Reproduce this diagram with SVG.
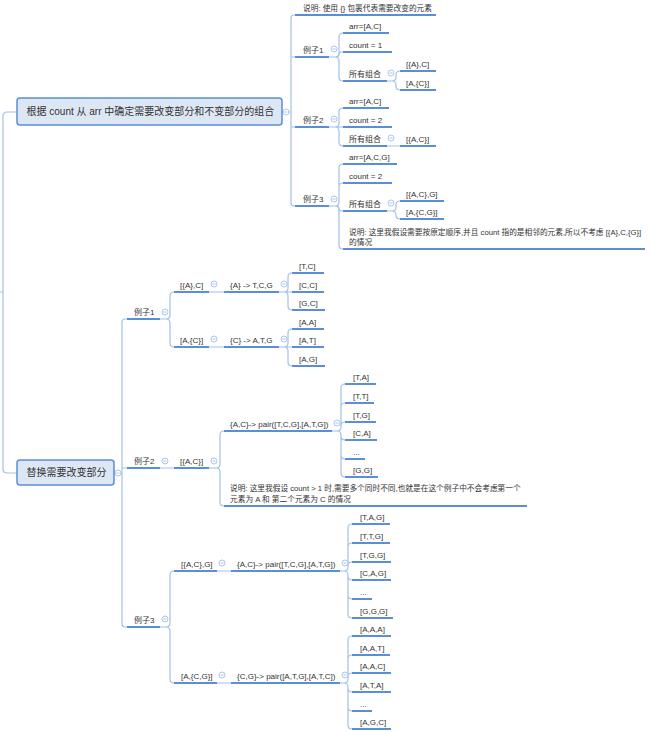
<svg xmlns="http://www.w3.org/2000/svg" width="651" height="732" viewBox="0 0 651 732">
<defs>
<style>
text{font-family:"Liberation Sans","Noto Sans CJK SC",sans-serif;font-size:8px;fill:#333}
.big{font-size:10px}
.nt{font-size:7.7px}
.box{fill:#dde7f4;stroke:#5b8ed8;stroke-width:1.5}
.ul{stroke:#5b8ed8;stroke-width:2;fill:none}
.cn{stroke:#a3c0ea;stroke-width:1.2;fill:none}
.tg{fill:#fff;stroke:#a3c0ea;stroke-width:0.9}
.tm{stroke:#a3c0ea;stroke-width:0.9}
</style>
<g id="tog"><circle class="tg" r="3"/><line class="tm" x1="-1.6" y1="0" x2="1.6" y2="0"/></g>
</defs>
<rect width="651" height="732" fill="#fff"/>
<g id="connectors">
<path class="cn" d="M17 112 H7 Q3 112 3 116 V469 Q3 473 7 473 H17 M0 292 H3"/>
<path class="cn" d="M282 112 H291 M295 15 H294 Q291 15 291 18 V203 Q291 206 294 206 H295 M291 57 H295 M291 127 H295"/>
<path class="cn" d="M329 57 H335 Q339 57 339 53 V37 Q339 33 343 33 M329 57 H336 Q339 57 339 54.5 Q339 52 342 52 H343 M329 57 H335 Q339 57 339 61 V77 Q339 81 343 81"/>
<path class="cn" d="M387 81 H392 Q396 81 396 77 V75 Q396 71 400 71 M387 81 H392 Q396 81 396 85 V86 Q396 90 400 90"/>
<path class="cn" d="M329 127 H335 Q339 127 339 123 V112 Q339 108 343 108 M329 127 H343 M329 127 H335 Q339 127 339 131 V142 Q339 146 343 146 M387 146 H400"/>
<path class="cn" d="M329 206 H335 Q339 206 339 202 V168 Q339 164 343 164 M329 206 H335 Q339 206 339 202 V187 Q339 183 343 183 M329 206 H336 Q339 206 339 208.5 Q339 211 342 211 H343 M329 206 H335 Q339 206 339 210 V245 Q339 249 343 249"/>
<path class="cn" d="M387 211 H392 Q396 211 396 207 V205 Q396 201 400 201 M387 211 H392 Q396 211 396 215 Q396 219 400 219"/>
<path class="cn" d="M114 473 H122 M127 319 H125 Q122 319 122 322 V624 Q122 627 125 627 H127 M122 468 H127"/>
<path class="cn" d="M160 319 H166 Q170 319 170 315 V296 Q170 292 174 292 M160 319 H166 Q170 319 170 323 V343 Q170 347 174 347 M209 292 H224 M209 347 H224"/>
<path class="cn" d="M279 292 H284 Q288 292 288 288 V277 Q288 273 292 273 M279 292 H292 M279 292 H284 Q288 292 288 296 V306 Q288 310 292 310"/>
<path class="cn" d="M279 347 H284 Q288 347 288 343 V333 Q288 329 292 329 M279 347 H292 M279 347 H284 Q288 347 288 351 V362 Q288 366 292 366"/>
<path class="cn" d="M160 468 H174 M209 468 H216 Q220 468 220 464 V435 Q220 431 224 431 M209 468 H216 Q220 468 220 472 V502 Q220 506 224 506"/>
<path class="cn" d="M332 431 H337 Q341 431 341 427 V388 Q341 384 345 384 M332 431 H337 Q341 431 341 427 V407 Q341 403 345 403 M332 431 H337 Q341 431 341 427 V426 Q341 422 345 422 M332 431 H337 Q341 431 341 435 V436 Q341 440 345 440 M332 431 H337 Q341 431 341 435 V455 Q341 459 345 459 M332 431 H337 Q341 431 341 435 V473 Q341 477 345 477"/>
<path class="cn" d="M160 627 H166 Q170 627 170 623 V575 Q170 571 174 571 M160 627 H166 Q170 627 170 631 V679 Q170 683 174 683 M217 571 H231 M217 683 H231"/>
<path class="cn" d="M340 571 H344 Q348 571 348 567 V528 Q348 524 352 524 M340 571 H344 Q348 571 348 567 V547 Q348 543 352 543 M340 571 H344 Q348 571 348 567 V566 Q348 562 352 562 M340 571 H344 Q348 571 348 575 V576 Q348 580 352 580 M340 571 H344 Q348 571 348 575 V595 Q348 599 352 599 M340 571 H344 Q348 571 348 575 V614 Q348 618 352 618"/>
<path class="cn" d="M340 683 H344 Q348 683 348 679 V640 Q348 636 352 636 M340 683 H344 Q348 683 348 679 V659 Q348 655 352 655 M340 683 H344 Q348 683 348 679 V677 Q348 673 352 673 M340 683 H344 Q348 683 348 687 V688 Q348 692 352 692 M340 683 H344 Q348 683 348 687 V707 Q348 711 352 711 M340 683 H344 Q348 683 348 687 V725 Q348 729 352 729"/>
<use href="#tog" x="286" y="112"/><use href="#tog" x="334" y="49"/><use href="#tog" x="391" y="73"/>
<use href="#tog" x="334" y="119"/><use href="#tog" x="391" y="138"/><use href="#tog" x="334" y="199"/>
<use href="#tog" x="391" y="203"/><use href="#tog" x="118" y="473"/><use href="#tog" x="165" y="312"/>
<use href="#tog" x="214" y="284"/><use href="#tog" x="284" y="284"/><use href="#tog" x="214" y="339"/>
<use href="#tog" x="284" y="339"/><use href="#tog" x="165" y="461"/><use href="#tog" x="214" y="461"/>
<use href="#tog" x="337" y="423"/><use href="#tog" x="165" y="619"/><use href="#tog" x="222" y="563"/>
<use href="#tog" x="345" y="563"/><use href="#tog" x="222" y="675"/><use href="#tog" x="345" y="675"/>
</g>
<g id="box1"><rect class="box" x="17" y="98" width="265" height="27" rx="3"/><text class="big" x="26.5" y="115">根据 count 从 arr 中确定需要改变部分和不变部分的组合</text></g>
<g id="box2"><rect class="box" x="17" y="460" width="97" height="25" rx="3"/><text class="big" x="26.5" y="476">替换需要改变部分</text></g>
<g id="p1-note"><line class="ul" x1="295" y1="15" x2="436" y2="15"/><text class="nt" x="303" y="10.5">说明: 使用 {} 包裹代表需要改变的元素</text></g>
<g id="p1-ex1"><line class="ul" x1="295" y1="57" x2="329" y2="57"/><text x="303" y="52.5">例子1</text></g>
<g id="p1-ex1-arr"><line class="ul" x1="343" y1="33" x2="389" y2="33"/><text x="349" y="28.5">arr=[A,C]</text></g>
<g id="p1-ex1-count"><line class="ul" x1="343" y1="52" x2="392" y2="52"/><text x="349" y="47.5">count = 1</text></g>
<g id="p1-ex1-all"><line class="ul" x1="343" y1="81" x2="387" y2="81"/><text x="349" y="76.5">所有组合</text></g>
<g id="p1-ex1-c1"><line class="ul" x1="400" y1="71" x2="436" y2="71"/><text x="406" y="66.5">[{A},C]</text></g>
<g id="p1-ex1-c2"><line class="ul" x1="400" y1="90" x2="436" y2="90"/><text x="406" y="85.5">[A,{C}]</text></g>
<g id="p1-ex2"><line class="ul" x1="295" y1="127" x2="329" y2="127"/><text x="303" y="122.5">例子2</text></g>
<g id="p1-ex2-arr"><line class="ul" x1="343" y1="108" x2="389" y2="108"/><text x="349" y="103.5">arr=[A,C]</text></g>
<g id="p1-ex2-count"><line class="ul" x1="343" y1="127" x2="392" y2="127"/><text x="349" y="122.5">count = 2</text></g>
<g id="p1-ex2-all"><line class="ul" x1="343" y1="146" x2="387" y2="146"/><text x="349" y="141.5">所有组合</text></g>
<g id="p1-ex2-c1"><line class="ul" x1="400" y1="146" x2="436" y2="146"/><text x="406" y="141.5">[{A,C}]</text></g>
<g id="p1-ex3"><line class="ul" x1="295" y1="206" x2="329" y2="206"/><text x="303" y="201.5">例子3</text></g>
<g id="p1-ex3-arr"><line class="ul" x1="343" y1="164" x2="397" y2="164"/><text x="349" y="159.5">arr=[A,C,G]</text></g>
<g id="p1-ex3-count"><line class="ul" x1="343" y1="183" x2="392" y2="183"/><text x="349" y="178.5">count = 2</text></g>
<g id="p1-ex3-all"><line class="ul" x1="343" y1="211" x2="387" y2="211"/><text x="349" y="206.5">所有组合</text></g>
<g id="p1-ex3-c1"><line class="ul" x1="400" y1="201" x2="444" y2="201"/><text x="406" y="196.5">[{A,C},G]</text></g>
<g id="p1-ex3-c2"><line class="ul" x1="400" y1="219" x2="444" y2="219"/><text x="406" y="214.5">[A,{C,G}]</text></g>
<g id="p1-ex3-note"><line class="ul" x1="343" y1="249" x2="645" y2="249"/><text class="nt" x="349" y="234.5">说明: 这里我假设需要按原定顺序,并且 count 指的是相邻的元素,所以不考虑 [{A},C,{G}]</text><text class="nt" x="349" y="244.5">的情况</text></g>
<g id="p2-ex1"><line class="ul" x1="127" y1="319" x2="160" y2="319"/><text x="134" y="314.5">例子1</text></g>
<g id="p2-ex1-a"><line class="ul" x1="174" y1="292" x2="209" y2="292"/><text x="180" y="287.5">[{A},C]</text></g>
<g id="p2-ex1-a1"><line class="ul" x1="224" y1="292" x2="279" y2="292"/><text x="230" y="287.5">{A} -&gt; T,C,G</text></g>
<g id="p2-ex1-a1-1"><line class="ul" x1="292" y1="273" x2="324" y2="273"/><text x="299" y="268.5">[T,C]</text></g>
<g id="p2-ex1-a1-2"><line class="ul" x1="292" y1="292" x2="324" y2="292"/><text x="299" y="287.5">[C,C]</text></g>
<g id="p2-ex1-a1-3"><line class="ul" x1="292" y1="310" x2="325" y2="310"/><text x="299" y="305.5">[G,C]</text></g>
<g id="p2-ex1-b"><line class="ul" x1="174" y1="347" x2="209" y2="347"/><text x="180" y="342.5">[A,{C}]</text></g>
<g id="p2-ex1-b1"><line class="ul" x1="224" y1="347" x2="279" y2="347"/><text x="230" y="342.5">{C} -&gt; A,T,G</text></g>
<g id="p2-ex1-b1-1"><line class="ul" x1="292" y1="329" x2="324" y2="329"/><text x="299" y="324.5">[A,A]</text></g>
<g id="p2-ex1-b1-2"><line class="ul" x1="292" y1="347" x2="324" y2="347"/><text x="299" y="342.5">[A,T]</text></g>
<g id="p2-ex1-b1-3"><line class="ul" x1="292" y1="366" x2="325" y2="366"/><text x="299" y="361.5">[A,G]</text></g>
<g id="p2-ex2"><line class="ul" x1="127" y1="468" x2="160" y2="468"/><text x="134" y="463.5">例子2</text></g>
<g id="p2-ex2-a"><line class="ul" x1="174" y1="468" x2="209" y2="468"/><text x="180" y="463.5">[{A,C}]</text></g>
<g id="p2-ex2-a1"><line class="ul" x1="224" y1="431" x2="332" y2="431"/><text x="230" y="426.5">{A,C}-&gt; pair([T,C,G],[A,T,G])</text></g>
<g id="p2-ex2-a1-1"><line class="ul" x1="345" y1="384" x2="376" y2="384"/><text x="353" y="379.5">[T,A]</text></g>
<g id="p2-ex2-a1-2"><line class="ul" x1="345" y1="403" x2="374" y2="403"/><text x="353" y="398.5">[T,T]</text></g>
<g id="p2-ex2-a1-3"><line class="ul" x1="345" y1="422" x2="376" y2="422"/><text x="353" y="417.5">[T,G]</text></g>
<g id="p2-ex2-a1-4"><line class="ul" x1="345" y1="440" x2="377" y2="440"/><text x="353" y="435.5">[C,A]</text></g>
<g id="p2-ex2-a1-5"><line class="ul" x1="345" y1="459" x2="365" y2="459"/><text x="353" y="454.5">...</text></g>
<g id="p2-ex2-a1-6"><line class="ul" x1="345" y1="477" x2="378" y2="477"/><text x="353" y="472.5">[G,G]</text></g>
<g id="p2-ex2-note"><line class="ul" x1="224" y1="506" x2="527" y2="506"/><text class="nt" x="230" y="490.5">说明: 这里我假设 count &gt; 1 时,需要多个同时不同,也就是在这个例子中不会考虑第一个</text><text class="nt" x="230" y="501.5">元素为 A 和 第二个元素为 C 的情况</text></g>
<g id="p2-ex3"><line class="ul" x1="127" y1="627" x2="160" y2="627"/><text x="134" y="622.5">例子3</text></g>
<g id="p2-ex3-a"><line class="ul" x1="174" y1="571" x2="217" y2="571"/><text x="181" y="566.5">[{A,C},G]</text></g>
<g id="p2-ex3-a1"><line class="ul" x1="231" y1="571" x2="340" y2="571"/><text x="237" y="566.5">{A,C}-&gt; pair([T,C,G],[A,T,G])</text></g>
<g id="p2-ex3-a1-1"><line class="ul" x1="352" y1="524" x2="390" y2="524"/><text x="360" y="519.5">[T,A,G]</text></g>
<g id="p2-ex3-a1-2"><line class="ul" x1="352" y1="543" x2="390" y2="543"/><text x="360" y="538.5">[T,T,G]</text></g>
<g id="p2-ex3-a1-3"><line class="ul" x1="352" y1="562" x2="391" y2="562"/><text x="360" y="557.5">[T,G,G]</text></g>
<g id="p2-ex3-a1-4"><line class="ul" x1="352" y1="580" x2="391" y2="580"/><text x="360" y="575.5">[C,A,G]</text></g>
<g id="p2-ex3-a1-5"><line class="ul" x1="352" y1="599" x2="372" y2="599"/><text x="360" y="594.5">...</text></g>
<g id="p2-ex3-a1-6"><line class="ul" x1="352" y1="618" x2="393" y2="618"/><text x="360" y="613.5">[G,G,G]</text></g>
<g id="p2-ex3-b"><line class="ul" x1="174" y1="683" x2="217" y2="683"/><text x="181" y="678.5">[A,{C,G}]</text></g>
<g id="p2-ex3-b1"><line class="ul" x1="231" y1="683" x2="340" y2="683"/><text x="237" y="678.5">{C,G}-&gt; pair([A,T,G],[A,T,C])</text></g>
<g id="p2-ex3-b1-1"><line class="ul" x1="352" y1="636" x2="391" y2="636"/><text x="360" y="631.5">[A,A,A]</text></g>
<g id="p2-ex3-b1-2"><line class="ul" x1="352" y1="655" x2="390" y2="655"/><text x="360" y="650.5">[A,A,T]</text></g>
<g id="p2-ex3-b1-3"><line class="ul" x1="352" y1="673" x2="391" y2="673"/><text x="360" y="668.5">[A,A,C]</text></g>
<g id="p2-ex3-b1-4"><line class="ul" x1="352" y1="692" x2="391" y2="692"/><text x="360" y="687.5">[A,T,A]</text></g>
<g id="p2-ex3-b1-5"><line class="ul" x1="352" y1="711" x2="372" y2="711"/><text x="360" y="706.5">...</text></g>
<g id="p2-ex3-b1-6"><line class="ul" x1="352" y1="729" x2="391" y2="729"/><text x="360" y="724.5">[A,G,C]</text></g>
</svg>
